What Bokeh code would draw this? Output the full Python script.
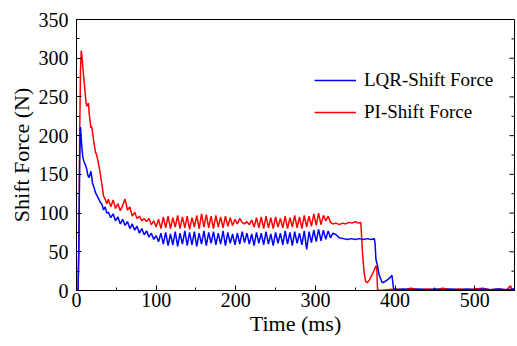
from bokeh.plotting import figure
from bokeh.models import FixedTicker, Legend, LegendItem, Range1d
from bokeh.embed import file_html
from bokeh.resources import INLINE
import math

# ---------------- data ----------------
x_ticks = [0, 100, 200, 300, 400, 500]
y_ticks = [0, 50, 100, 150, 200, 250, 300, 350]
x_minor = [50, 150, 250, 350, 450, 550]
y_minor = [25, 75, 125, 175, 225, 275, 325]

# PI-Shift Force (red)
pi_time = [0, 2, 3, 4, 5, 6, 7, 8, 10, 12, 13, 14, 15, 16, 18, 19, 20, 22, 24, 25, 26, 28, 30, 32, 34, 36, 38,
           40, 43, 46, 49, 52, 55, 58, 61, 64, 67, 70, 73, 76, 79, 82, 85, 88, 91, 94, 97, 100,
           103, 106, 109, 112, 115, 118, 121, 124, 127, 130, 133, 136, 139, 142, 145, 148, 151, 154, 157, 160,
           163, 166, 169, 172, 175, 178, 181, 184, 187, 190, 193, 196, 199, 202, 205, 208, 211, 214, 217, 220,
           223, 226, 229, 232, 235, 238, 241, 244, 247, 250, 253, 256, 259, 262, 265, 268, 271, 274, 277, 280,
           283, 286, 289, 292, 295, 298, 301, 304, 307, 310, 313, 316, 319,
           322, 326, 330, 334, 338, 342, 346, 350, 354, 357, 358, 359, 361, 363, 365, 368, 372, 376, 377, 378, 380,
           390, 400, 410, 420, 430, 440, 450, 460, 470, 480, 490, 500, 510, 520, 530, 540, 545, 547, 550]
pi_force = [0, 2, 60, 200, 285, 310, 300, 288, 265, 242, 238, 240, 242, 228, 210, 212, 205, 190, 178, 176, 172, 162, 150, 136, 122, 118, 112,
            118, 108, 117, 106, 112, 103, 110, 118, 104, 108, 96, 101, 93, 96, 90, 93, 89, 93, 85, 90, 82,
            92, 80, 95, 81, 96, 80, 94, 82, 97, 80, 95, 81, 96, 79, 94, 82, 97, 80, 99, 82,
            98, 81, 96, 80, 97, 82, 95, 81, 96, 83, 94, 84, 92, 86, 93, 88, 86, 89, 85, 91,
            82, 94, 81, 95, 80, 96, 81, 94, 80, 95, 82, 93, 81, 96, 80, 94, 82, 97, 81, 95,
            80, 97, 82, 96, 83, 99, 84, 100, 85, 97, 90, 96, 88,
            86, 87, 85, 87, 86, 88, 87, 89, 87, 88, 70, 50, 25, 12, 10, 14, 22, 32, 28, 2, 0,
            1, 2, 1, 3, 1, 2, 1, 3, 1, 2, 1, 2, 3, 1, 2, 1, 6, 1, 2]

# LQR-Shift Force (blue)
lqr_time = [0, 2, 3, 4, 5, 6, 7, 8, 9, 10, 12, 13, 14, 15, 16, 17, 18, 19, 20, 22, 24, 26, 28, 30, 32, 34, 36, 38,
            40, 43, 46, 49, 52, 55, 58, 61, 64, 67, 70, 73, 76, 79, 82, 85, 88, 91, 94, 97, 100,
            103, 106, 109, 112, 115, 118, 121, 124, 127, 130, 133, 136, 139, 142, 145, 148, 151, 154, 157, 160,
            163, 166, 169, 172, 175, 178, 181, 184, 187, 190, 193, 196, 199, 202, 205, 208, 211, 214, 217, 220,
            223, 226, 229, 232, 235, 238, 241, 244, 247, 250, 253, 256, 259, 262, 265, 268, 271, 274, 277, 280,
            283, 286, 289, 292, 295, 298, 301, 304, 307, 310, 313, 316, 319,
            322, 326, 330, 335, 340, 345, 350, 355, 360, 365, 370, 374, 375, 376, 378, 380, 384, 388, 392, 395, 396,
            397, 398, 400, 410, 420, 430, 440, 450, 460, 470, 480, 490, 500, 510, 520, 530, 540, 550]
lqr_force = [0, 0, 60, 170, 211, 195, 182, 172, 168, 165, 160, 156, 150, 147, 146, 150, 154, 148, 139, 133, 126, 122, 118, 114, 111, 104, 108, 100,
             101, 94, 99, 90, 95, 86, 92, 84, 89, 80, 86, 78, 83, 74, 80, 72, 77, 69, 74, 66, 71,
             63, 74, 60, 75, 58, 73, 59, 76, 57, 74, 60, 77, 58, 75, 59, 76, 57, 74, 60, 77,
             58, 75, 61, 76, 59, 74, 60, 77, 58, 75, 61, 73, 59, 74, 60, 76, 62, 74, 60, 73,
             58, 75, 61, 74, 59, 76, 60, 73, 58, 75, 61, 74, 59, 77, 60, 75, 58, 76, 61, 74,
             59, 77, 53, 76, 62, 78, 63, 79, 64, 78, 66, 77, 68,
             74, 72, 68, 67, 66, 67, 66, 67, 66, 67, 66, 67, 60, 40, 32, 20, 10, 12, 15, 18, 20,
             12, 3, 1, 2, 1, 2, 1, 2, 1, 2, 1, 2, 1, 2, 1, 2, 1, 2]

FONT = "Liberation Serif"

p = figure(width=517, height=346, output_backend="svg", toolbar_location=None,
           x_range=Range1d(0, 550), y_range=Range1d(0, 350),
           min_border_left=76, min_border_right=3, min_border_top=19, min_border_bottom=56)

p.background_fill_color = "white"
p.border_fill_color = "white"
p.outline_line_color = "black"
p.outline_line_width = 1
p.xgrid.visible = False
p.ygrid.visible = False

rr = p.line(pi_time, pi_force, line_color="#ff0000", line_width=1.5)
rb = p.line(lqr_time, lqr_force, line_color="#0000ff", line_width=1.5)

# inward ticks on the right-hand frame edge
p.ray(x=[550] * len(y_ticks), y=y_ticks, length=5, length_units="screen",
      angle=math.pi, line_color="black", line_width=1)
p.ray(x=[550] * len(y_minor), y=y_minor, length=3, length_units="screen",
      angle=math.pi, line_color="black", line_width=1)

xa = p.xaxis[0]
xa.ticker = FixedTicker(ticks=x_ticks, minor_ticks=x_minor)
ya = p.yaxis[0]
ya.ticker = FixedTicker(ticks=y_ticks, minor_ticks=y_minor)

for ax in (xa, ya):
    ax.axis_line_color = "black"
    ax.major_tick_in = 5
    ax.major_tick_out = 0
    ax.minor_tick_in = 3
    ax.minor_tick_out = 0
    ax.major_tick_line_color = "black"
    ax.minor_tick_line_color = "black"
    ax.major_label_text_font = FONT
    ax.major_label_text_font_size = "20px"
    ax.major_label_text_color = "black"
    ax.axis_label_text_font = FONT
    ax.axis_label_text_font_size = "22px"
    ax.axis_label_text_font_style = "normal"
    ax.axis_label_text_color = "black"

xa.axis_label = "Time (ms)"
xa.major_label_standoff = 2
xa.axis_label_standoff = 1
ya.axis_label = "Shift Force (N)"
ya.major_label_standoff = 8
ya.axis_label_standoff = 2

legend = Legend(items=[LegendItem(label="LQR-Shift Force", renderers=[rb]),
                       LegendItem(label="PI-Shift Force", renderers=[rr])],
                location=(238, 167), border_line_color=None, background_fill_alpha=0,
                padding=0, margin=0, spacing=10, glyph_width=42, glyph_height=22,
                label_height=22, label_standoff=8, label_text_font=FONT,
                label_text_font_size="19px", label_text_color="black")
p.add_layout(legend)

open("out.html", "w").write(file_html(p, INLINE))
